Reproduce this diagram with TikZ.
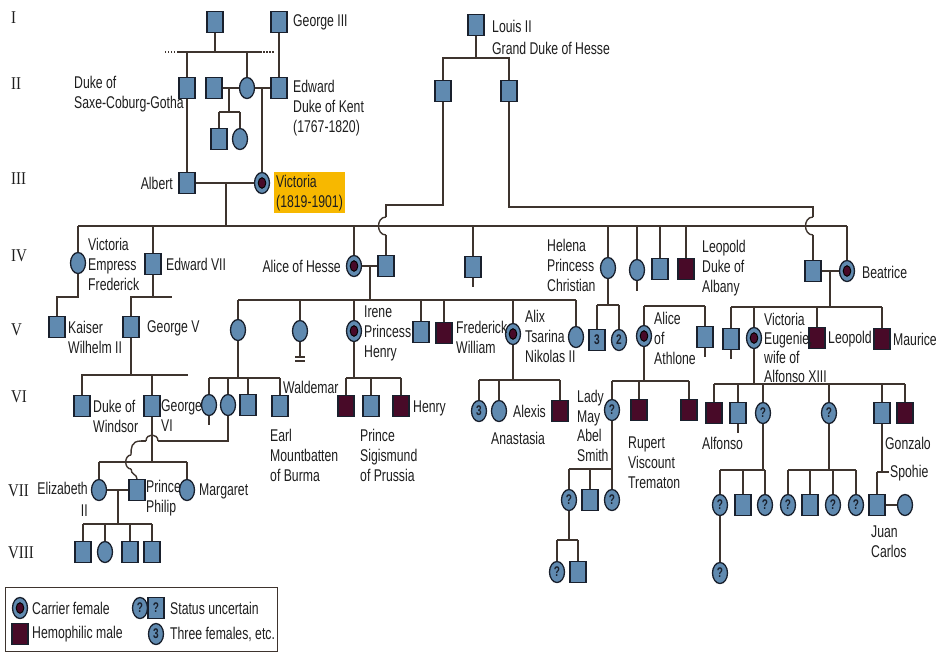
\documentclass[tikz,border=0pt]{standalone}
\usepackage{fontspec}
\setmainfont{Liberation Sans}[FakeStretch=0.72]
\newfontfamily\genfont{Liberation Serif}[FakeStretch=0.83]
\usetikzlibrary{shapes.geometric}
\definecolor{blu}{RGB}{96,138,176}
\definecolor{edg}{RGB}{25,32,45}
\definecolor{mar}{RGB}{72,10,40}
\definecolor{lin}{RGB}{62,52,46}
\definecolor{hil}{RGB}{247,184,0}
\definecolor{txt}{RGB}{30,30,30}
\begin{document}
\begin{tikzpicture}[x=1pt,y=-1pt,
  sym/.style={draw=edg, line width=1.3pt, inner sep=0pt, minimum width=16pt, minimum height=21pt,
    font=\fontsize{14}{14}\selectfont\bfseries, text=edg},
  sq/.style={sym, rectangle, fill=blu},
  fm/.style={sym, ellipse, fill=blu, minimum width=15pt},
  hm/.style={sq, fill=mar},
  cf/.style={fm, path picture={\filldraw[fill=mar, draw=black, line width=0.9pt]
    (path picture bounding box.center) ellipse (3.8pt and 5.3pt);}},
  lab/.style={font=\fontsize{17}{20}\selectfont, text=txt, inner sep=0pt, align=left},
  gen/.style={font=\genfont\fontsize{18}{18}\selectfont, text=txt, inner sep=0pt, anchor=west},
  ln/.style={draw=lin, line width=1.4pt},
]
\fill[white] (0,0) rectangle (937,654);
\useasboundingbox (0,0) rectangle (937,654);

% generation numerals
\node[gen] (gI) at (11,18) {I};
\node[gen] (gII) at (11,84) {II};
\node[gen] (gIII) at (11,179) {III};
\node[gen] (gIV) at (11,256) {IV};
\node[gen] (gV) at (11,330) {V};
\node[gen] (gVI) at (11,397) {VI};
\node[gen] (gVII) at (8,491) {VII};
\node[gen] (gVIII) at (8,553) {VIII};

% ---------- Gen I ----------
\node[sq] (g1a) at (215,22) {};
\node[sq] (geo3) at (279,22) {};
\node[lab,anchor=west] (tgeo3) at (293,22) {George III};
\node[sq] (lou) at (476,25) {};
\node[lab,anchor=west,font=\fontsize{17}{22}\selectfont] (tlou) at (492,37) {Louis II\\Grand Duke of Hesse};

% ---------- Gen II ----------
\node[sq] (duke) at (187,88) {};
\node[sq] (sq2) at (214,88) {};
\node[fm] (c2) at (247,88) {};
\node[sq] (edw) at (279,88) {};
\node[sq] (sq3) at (219,139) {};
\node[fm] (c3) at (240,139) {};
\node[sq] (ls1) at (443,91) {};
\node[sq] (ls2) at (509,91) {};
\node[lab,anchor=west] (tduke) at (74,94) {Duke of\\Saxe-Coburg-Gotha};
\node[lab,anchor=west] (tedw) at (293,108) {Edward\\Duke of Kent\\(1767-1820)};

% ---------- Gen III ----------
\node[sq] (alb) at (187,183) {};
\node[cf] (vic) at (262,183) {};
\node[lab,anchor=east] (talb) at (173,183) {Albert};
\node[lab,anchor=north west,fill=hil,inner xsep=2pt,inner ysep=1pt,minimum width=68pt,minimum height=41pt] (tvic) at (274,172) {Victoria\\(1819-1901)};

% ---------- Gen IV ----------
\node[fm] (vef) at (78,263) {};
\node[sq] (ed7) at (153,264) {};
\node[cf] (alh) at (354,266) {};
\node[sq] (alhh) at (386,266) {};
\node[sq] (s4) at (473,267) {};
\node[fm] (hel) at (608,268) {};
\node[fm] (c4) at (637,270) {};
\node[sq] (s4b) at (660,269) {};
\node[hm] (leo) at (686,269) {};
\node[sq] (beah) at (813,271) {};
\node[cf] (bea) at (847,271) {};
\node[lab,anchor=west] (tvef) at (88,264) {Victoria\\Empress\\Frederick};
\node[lab,anchor=west] (ted7) at (166,264) {Edward VII};
\node[lab,anchor=east] (talh) at (341,266) {Alice of Hesse};
\node[lab,anchor=west] (thel) at (547,265) {Helena\\Princess\\Christian};
\node[lab,anchor=west] (tleo) at (702,268) {Leopold\\Duke of\\Albany};
\node[lab,anchor=west] (tbea) at (862,272) {Beatrice};

% ---------- Gen V ----------
\node[sq] (kai) at (57,327) {};
\node[sq] (geo5) at (131,327) {};
\node[fm] (c5a) at (238,330) {};
\node[fm] (c5b) at (300,331) {};
\node[cf] (ire) at (354,331) {};
\node[sq] (s5) at (421,332) {};
\node[hm] (fre) at (444,333) {};
\node[cf] (alx) at (513,334) {};
\node[fm] (c5c) at (576,337) {};
\node[sq] (n3) at (597,340) {3};
\node[fm] (n2) at (619,340) {2};
\node[cf] (ath) at (644,336) {};
\node[sq] (s5b) at (705,337) {};
\node[sq] (s5c) at (731,339) {};
\node[cf] (veu) at (754,338) {};
\node[hm] (leo5) at (817,338) {};
\node[hm] (mau) at (882,339) {};
\node[lab,anchor=west] (tkai) at (68,337) {Kaiser\\Wilhelm II};
\node[lab,anchor=west] (tgeo5) at (147,328) {George V};
\node[lab,anchor=west] (tire) at (364,333) {Irene\\Princess\\Henry};
\node[lab,anchor=west] (tfre) at (456,337) {Frederick\\William};
\node[lab,anchor=west] (talx) at (525,336) {Alix\\Tsarina\\Nikolas II};
\node[lab,anchor=west] (tath) at (654,338) {Alice\\of\\Athlone};
\node[lab,anchor=west,font=\fontsize{17}{19}\selectfont] (tveu) at (764,348) {Victoria\\Eugenie,\\wife of\\Alfonso XIII};
\node[lab,anchor=west] (tleo5) at (828,339) {Leopold};
\node[lab,anchor=west] (tmau) at (893,339) {Maurice};

% ---------- Gen VI ----------
\node[sq] (win) at (82,406) {};
\node[sq] (geo6) at (152,406) {};
\node[fm] (c6a) at (209,405) {};
\node[fm] (c6b) at (228,405) {};
\node[sq] (s6a) at (248,405) {};
\node[sq] (mou) at (280,406) {};
\node[hm] (wal) at (346,406) {};
\node[sq] (sig) at (371,406) {};
\node[hm] (hen) at (401,406) {};
\node[fm] (c6c) at (479,411) {3};
\node[fm] (ana) at (499,411) {};
\node[hm] (alexis) at (560,411) {};
\node[fm] (lmay) at (612,410) {?};
\node[hm] (rup) at (639,410) {};
\node[hm] (h6) at (689,410) {};
\node[hm] (alf) at (714,413) {};
\node[sq] (s6b) at (738,413) {};
\node[fm] (q6a) at (763,413) {?};
\node[fm] (q6b) at (829,413) {?};
\node[sq] (juan) at (882,413) {};
\node[hm] (gon) at (905,413) {};
\node[lab,anchor=west] (twin) at (93,416) {Duke of\\Windsor};
\node[lab,anchor=west] (tgeo6) at (161,416) {George\\VI};
\node[lab,anchor=west] (twal) at (283,387) {Waldemar};
\node[lab,anchor=west] (tmou) at (270,455) {Earl\\Mountbatten\\of Burma};
\node[lab,anchor=west] (then) at (413,408) {Henry};
\node[lab,anchor=west] (tsig) at (360,455) {Prince\\Sigismund\\of Prussia};
\node[lab,anchor=west] (talexis) at (513,411) {Alexis};
\node[lab,anchor=west] (tana) at (491,438) {Anastasia};
\node[lab,anchor=west,font=\fontsize{17}{19.5}\selectfont] (tlmay) at (577,426) {Lady\\May\\Abel\\Smith};
\node[lab,anchor=west] (trup) at (628,463) {Rupert\\Viscount\\Trematon};
\node[lab,anchor=west] (talf) at (702,443) {Alfonso};
\node[lab,anchor=west] (tgon) at (885,443) {Gonzalo};
\node[lab,anchor=west] (tspo) at (890,473) {Spohie};

% ---------- Gen VII ----------
\node[fm] (eli) at (99,490) {};
\node[sq] (phi) at (137,490) {};
\node[fm] (marg) at (187,490) {};
\node[fm] (q7a) at (569,500) {?};
\node[sq] (s7a) at (590,500) {};
\node[fm] (q7b) at (612,500) {?};
\node[fm] (q7c) at (720,505) {?};
\node[sq] (s7b) at (743,505) {};
\node[fm] (q7d) at (765,505) {?};
\node[fm] (q7e) at (788,505) {?};
\node[sq] (s7c) at (810,505) {};
\node[fm] (q7f) at (833,505) {?};
\node[fm] (q7g) at (856,505) {?};
\node[sq] (jc) at (877,505) {};
\node[fm] (sof) at (905,505) {};
\node[lab,anchor=east,align=right,font=\fontsize{17}{22}\selectfont] (teli) at (88,499) {Elizabeth\\II};
\node[lab,anchor=west] (tphi) at (146,498) {Prince\\Philip};
\node[lab,anchor=west] (tmarg) at (199,491) {Margaret};
\node[lab,anchor=west] (tjc) at (871,542) {Juan\\Carlos};

% ---------- Gen VIII ----------
\node[sq] (e1) at (83,552) {};
\node[fm] (e2) at (105,552) {};
\node[sq] (e3) at (130,552) {};
\node[sq] (e4) at (152,552) {};
\node[fm] (q8a) at (557,572) {?};
\node[sq] (s8a) at (578,572) {};
\node[fm] (q8b) at (720,573) {?};

% ---------- junction coordinates ----------
\coordinate (f1) at (215,52);
\coordinate (f1l) at (178,52);
\coordinate (f1r) at (260,52);
\coordinate (m2) at (229,88);
\coordinate (f2) at (229,112);
\coordinate (m3) at (226,183);
\coordinate (f3) at (226,226);
\coordinate (lj) at (476,58);
\coordinate (f5) at (78,297);
\coordinate (f6) at (153,297);
\coordinate (f6r) at (172,297);
\coordinate (m7) at (370,266);
\coordinate (f7) at (370,300);
\coordinate (f8) at (608,305);
\coordinate (f9) at (675,306);
\coordinate (m10) at (830,271);
\coordinate (f10) at (830,307);
\coordinate (f11) at (131,375);
\coordinate (f11r) at (188,375);
\coordinate (f12) at (238,378);
\coordinate (f13) at (354,378);
\coordinate (f14) at (513,380);
\coordinate (f15) at (644,381);
\coordinate (f16) at (754,384);
\coordinate (f17) at (152,462);
\coordinate (m18) at (118,490);
\coordinate (f18) at (118,524);
\coordinate (f19) at (612,469);
\coordinate (f20) at (569,540);
\coordinate (f21) at (763,470);
\coordinate (f22) at (829,470);
\coordinate (f24) at (882,472);
\coordinate (f24b) at (877,472);
\coordinate (f24r) at (889,472);
% hop points
\coordinate (h1a) at (386,217);
\coordinate (h1b) at (386,235);
\coordinate (h2a) at (813,217);
\coordinate (h2b) at (813,235);
\coordinate (h3a) at (158,441);
\coordinate (h3b) at (146,441);
\coordinate (h3c) at (141,441);
\coordinate (h3d) at (131,455);
\coordinate (h3e) at (131,469);

% ---------- connectors ----------
% gen I -> II
\draw[ln] (g1a.south) -- (f1);
\draw[ln] (f1l) -- (f1r);
\draw[ln, dash pattern=on 1.5pt off 1.5pt] (f1l) -- ++(-15,0);
\draw[ln, dash pattern=on 1.5pt off 1.5pt] (f1r) -- ++(15,0);
\foreach \c in {duke,c2} \draw[ln] (\c.north) -- (\c.north |- f1);
\draw[ln] (geo3.south) -- (edw.north);
\draw[ln] (sq2.east) -- (c2.west);
\draw[ln] (c2.east) -- (edw.west);
\draw[ln] (m2) -- (f2);
\draw[ln] (sq3.north |- f2) -- (c3.north |- f2);
\foreach \c in {sq3,c3} \draw[ln] (\c.north) -- (\c.north |- f2);
\draw[ln] (duke.south) -- (alb.north);
\draw[ln] (vic.north |- edw) -- (vic.north);
% Louis II
\draw[ln] (lou.south) -- (lj);
\draw[ln] (ls1.north) |- (lj) -| (ls2.north);
% gen III -> IV
\draw[ln] (alb.east) -- (vic.west);
\draw[ln] (m3) -- (f3);
\draw[ln] (vef.north |- f3) -- (bea.north |- f3);
\foreach \c in {vef,ed7,alh,s4,hel,c4,s4b,leo,bea} \draw[ln] (\c.north) -- (\c.north |- f3);
% Louis' sons to gen IV husbands (with hops)
\draw[ln] (ls1.south) |- (h1a |- 0,205) -- (h1a);
\draw[ln] (h1a) .. controls (376,217) and (376,235) .. (h1b);
\draw[ln] (h1b) -- (alhh.north);
\draw[ln] (ls2.south) |- (h2a |- 0,207) -- (h2a);
\draw[ln] (h2a) .. controls (803,217) and (803,235) .. (h2b);
\draw[ln] (h2b) -- (beah.north);
% gen IV -> V
\draw[ln] (vef.south) -- (f5) -| (kai.north);
\draw[ln] (ed7.south) -- (f6);
\draw[ln] (geo5.north) |- (f6r);
\draw[ln] (alh.east) -- (alhh.west);
\draw[ln] (m7) -- (f7);
\draw[ln] (c5a.north |- f7) -- (c5c.north |- f7);
\foreach \c in {c5a,c5b,ire,s5,fre,alx,c5c} \draw[ln] (\c.north) -- (\c.north |- f7);
\draw[ln] (hel.south) -- (f8);
\draw[ln] (n3.north |- f8) -- (n2.north |- f8);
\foreach \c in {n3,n2} \draw[ln] (\c.north) -- (\c.north |- f8);
\draw[ln] (ath.north |- f9) -- (s5b.north |- f9);
\foreach \c in {ath,s5b} \draw[ln] (\c.north) -- (\c.north |- f9);
\draw[ln] (beah.east) -- (bea.west);
\draw[ln] (m10) -- (f10);
\draw[ln] (s5c.north |- f10) -- (mau.north |- f10);
\foreach \c in {s5c,veu,leo5,mau} \draw[ln] (\c.north) -- (\c.north |- f10);
% gen V -> VI
\draw[ln] (geo5.south) -- (f11);
\draw[ln] (win.north) |- (f11r);
\draw[ln] (geo6.north) -- (geo6.north |- f11);
\draw[ln] (c5a.south) -- (f12);
\draw[ln] (c6a.north |- f12) -- (mou.north |- f12);
\foreach \c in {c6a,c6b,s6a,mou} \draw[ln] (\c.north) -- (\c.north |- f12);
\draw[ln] (ire.south) -- (f13);
\draw[ln] (wal.north |- f13) -- (hen.north |- f13);
\foreach \c in {wal,sig,hen} \draw[ln] (\c.north) -- (\c.north |- f13);
\draw[ln] (alx.south) -- (f14);
\draw[ln] (c6c.north |- f14) -- (alexis.north |- f14);
\foreach \c in {c6c,ana,alexis} \draw[ln] (\c.north) -- (\c.north |- f14);
\draw[ln] (ath.south) -- (f15);
\draw[ln] (lmay.north |- f15) -- (h6.north |- f15);
\foreach \c in {lmay,rup,h6} \draw[ln] (\c.north) -- (\c.north |- f15);
\draw[ln] (veu.south) -- (f16);
\draw[ln] (alf.north |- f16) -- (gon.north |- f16);
\foreach \c in {alf,s6b,q6a,q6b,juan,gon} \draw[ln] (\c.north) -- (\c.north |- f16);
% gen VI -> VII
\draw[ln] (geo6.south) -- (f17);
\draw[ln] (eli.north |- f17) -- (marg.north |- f17);
\foreach \c in {eli,marg} \draw[ln] (\c.north) -- (\c.north |- f17);
% Philip's line from his mother (with hops)
\draw[ln] (c6b.south) |- (h3a);
\draw[ln] (h3a) .. controls (158,433) and (146,433) .. (h3b);
\draw[ln] (h3b) -- (h3c);
\draw[ln] (h3c) .. controls (131,441) and (131,448) .. (h3d);
\draw[ln] (h3d) .. controls (124,455) and (124,469) .. (h3e);
\draw[ln] (h3e) .. controls (131,475) and (137,474) .. (phi.north);
\draw[ln] (lmay.south) -- (q7b.north);
\draw[ln] (q7a.north |- f19) -- (f19);
\foreach \c in {q7a,s7a} \draw[ln] (\c.north) -- (\c.north |- f19);
\draw[ln] (q6a.south) -- (f21);
\draw[ln] (q7c.north |- f21) -- (q7d.north |- f21);
\foreach \c in {q7c,s7b,q7d} \draw[ln] (\c.north) -- (\c.north |- f21);
\draw[ln] (q6b.south) -- (f22);
\draw[ln] (q7e.north |- f22) -- (q7g.north |- f22);
\foreach \c in {q7e,s7c,q7f,q7g} \draw[ln] (\c.north) -- (\c.north |- f22);
\draw[ln] (juan.south) -- (f24);
\draw[ln] (f24b) -- (f24r);
\draw[ln] (f24b) -- (jc.north);
\draw[ln] (jc.east) -- (sof.west);
% gen VII -> VIII
\draw[ln] (eli.east) -- (phi.west);
\draw[ln] (m18) -- (f18);
\draw[ln] (e1.north |- f18) -- (e4.north |- f18);
\foreach \c in {e1,e2,e3,e4} \draw[ln] (\c.north) -- (\c.north |- f18);
\draw[ln] (q7a.south) -- (f20);
\draw[ln] (q8a.north |- f20) -- (s8a.north |- f20);
\foreach \c in {q8a,s8a} \draw[ln] (\c.north) -- (\c.north |- f20);
\draw[ln] (q7c.south) -- (q8b.north);

% small ticks below some symbols
\foreach \c in {s4,s5b,s5c,c6a,s6b} \draw[ln] (\c.south) -- ++(0,9);
\draw[ln] (c4.south) -- ++(0,10);
\draw[ln] (c5b.south) -- ++(0,14);
\draw[ln] (295,357) -- (305,357);
\draw[ln] (295,361) -- (305,361);

% ---------- legend ----------
\node[draw=lin, line width=1.4pt, minimum width=272pt, minimum height=64pt, anchor=north west, inner sep=0pt] (leg) at (5,587) {};
\node[cf] (lgcf) at (20,608) {};
\node[lab,anchor=west] (lgt1) at (32,608) {Carrier female};
\node[hm] (lghm) at (20,634) {};
\node[lab,anchor=west] (lgt2) at (32,634) {Hemophilic male};
\node[fm] (lgq1) at (140,608) {?};
\node[sq] (lgq2) at (156,608) {?};
\node[lab,anchor=west] (lgt3) at (170,608) {Status uncertain};
\node[fm] (lg3) at (156,634) {3};
\node[lab,anchor=west] (lgt4) at (170,634) {Three females, etc.};
\end{tikzpicture}
\end{document}
